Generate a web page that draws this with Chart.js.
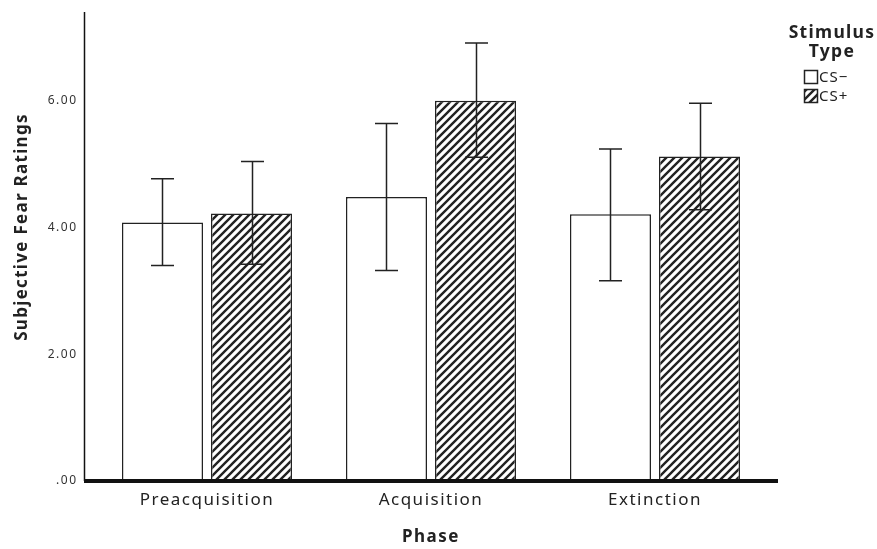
<!DOCTYPE html>
<html>
<head>
<meta charset="utf-8">
<script src="https://cdn.jsdelivr.net/npm/chart.js@4.4.1/dist/chart.umd.min.js"></script>
<style>
    html, body { margin: 0; padding: 0; background: #fff; }
    #wrap { width: 877px; height: 549px; position: relative; }
</style>
</head>
<body>
<div id="wrap"><canvas id="fearChart" width="877" height="549"></canvas></div>
<script>
// Chart data
const phases = ['Preacquisition', 'Acquisition', 'Extinction'];
const seriesNames = ['CS\u2212', 'CS+'];
const csMinus = [4.08, 4.48, 4.21];
const csPlus = [4.22, 6.00, 5.12];
// error bar ends (low / high)
const csMinusLow = [3.40, 3.32, 3.16];
const csMinusHigh = [4.77, 5.64, 5.24];
const csPlusLow = [3.42, 5.11, 4.28];
const csPlusHigh = [5.04, 6.91, 5.96];
const yTicks = [0, 2, 4, 6];
const yMax = 7.4;

const FONT = "'Noto Sans', 'Open Sans', sans-serif";

// Diagonal hatch pattern for CS+
function makeHatch(size, width) {
    const c = document.createElement('canvas');
    c.width = size; c.height = size;
    const g = c.getContext('2d');
    g.fillStyle = '#fff';
    g.fillRect(0, 0, size, size);
    g.strokeStyle = '#222';
    g.lineWidth = width;
    g.lineCap = 'square';
    g.beginPath();
    g.moveTo(0, size); g.lineTo(size, 0);
    g.moveTo(-1, 1); g.lineTo(1, -1);
    g.moveTo(size - 1, size + 1); g.lineTo(size + 1, size - 1);
    g.stroke();
    return g.createPattern(c, 'repeat');
}

const ctx = document.getElementById('fearChart').getContext('2d');
const hatch = makeHatch(8, 2.4);

const errorBars = [
    { low: csMinusLow, high: csMinusHigh },
    { low: csPlusLow, high: csPlusHigh }
];

// SPSS-style tracking on all text
const spacingPlugin = {
    id: 'spacing',
    beforeDraw(chart) {
        chart.ctx.letterSpacing = '1.5px';
    }
};

// Error bars, axis lines, y title and legend
const extrasPlugin = {
    id: 'extras',
    afterDatasetsDraw(chart) {
        const c = chart.ctx;
        const y = chart.scales.y;
        c.save();
        c.strokeStyle = '#222';
        c.lineWidth = 1.5;
        errorBars.forEach((eb, di) => {
            const meta = chart.getDatasetMeta(di);
            meta.data.forEach((bar, i) => {
                const x = Math.round(bar.x) + 0.5;
                const yl = y.getPixelForValue(eb.low[i]);
                const yh = y.getPixelForValue(eb.high[i]);
                c.beginPath();
                c.moveTo(x, yl); c.lineTo(x, yh);
                c.moveTo(x - 11.5, yl); c.lineTo(x + 11.5, yl);
                c.moveTo(x - 11.5, yh); c.lineTo(x + 11.5, yh);
                c.stroke();
            });
        });

        // axis lines (extend slightly past the plot area like SPSS)
        const area = chart.chartArea;
        const left = area.left - 11;
        c.strokeStyle = '#111';
        c.lineWidth = 1.5;
        c.beginPath();
        c.moveTo(left + 0.5, area.top);
        c.lineTo(left + 0.5, area.bottom);
        c.stroke();
        c.lineWidth = 4;
        c.beginPath();
        c.moveTo(left, area.bottom);
        c.lineTo(area.right + 11, area.bottom);
        c.stroke();

        // y axis title
        c.fillStyle = '#222';
        c.letterSpacing = '1.3px';
        c.font = `bold 17px ${FONT}`;
        c.textAlign = 'center';
        c.textBaseline = 'middle';
        c.save();
        c.translate(22, 227);
        c.rotate(-Math.PI / 2);
        c.fillText('Subjective Fear Ratings', 0, 0);
        c.restore();

        // legend
        c.font = `bold 17.5px ${FONT}`;
        c.fillText('Stimulus', 832, 33);
        c.fillText('Type', 832, 52);
        c.letterSpacing = '1px';
        c.font = `15px ${FONT}`;
        c.textAlign = 'left';
        const fills = ['#fff', hatch];
        seriesNames.forEach((name, i) => {
            const top = 70 + i * 19;
            c.fillStyle = fills[i];
            c.fillRect(804, top, 14, 14);
            c.lineWidth = 1.5;
            c.strokeStyle = '#222';
            c.strokeRect(804.5, top + 0.5, 13, 13);
            c.fillStyle = '#222';
            c.fillText(name, 819, top + 7.5);
        });
        c.restore();
    }
};

new Chart(ctx, {
    type: 'bar',
    data: {
        labels: phases,
        datasets: [
            {
                label: seriesNames[0],
                data: csMinus,
                backgroundColor: '#fff',
                borderColor: '#222',
                borderWidth: 1.5,
                borderSkipped: false
            },
            {
                label: seriesNames[1],
                data: csPlus,
                backgroundColor: hatch,
                borderColor: '#222',
                borderWidth: 1.5,
                borderSkipped: false
            }
        ]
    },
    options: {
        responsive: false,
        animation: false,
        devicePixelRatio: 1,
        categoryPercentage: 0.795,
        barPercentage: 0.91,
        layout: { padding: { top: 12, right: 110, left: 0, bottom: 0 } },
        plugins: {
            legend: { display: false },
            tooltip: { enabled: false }
        },
        scales: {
            x: {
                grid: { display: false, drawTicks: false },
                border: { display: false },
                ticks: {
                    color: '#222',
                    padding: 9,
                    font: { family: FONT, size: 17 }
                },
                title: {
                    display: true,
                    text: 'Phase',
                    color: '#222',
                    font: { family: FONT, size: 17, weight: 'bold' },
                    padding: { top: 0, bottom: 2 }
                },
                afterFit(scale) {
                    scale.height = 68;
                    scale.paddingLeft = 0;
                    scale.paddingRight = 0;
                }
            },
            y: {
                min: 0,
                max: yMax,
                grid: { display: false, drawTicks: false },
                border: { display: false },
                afterBuildTicks(scale) {
                    scale.ticks = yTicks.map(v => ({ value: v }));
                },
                ticks: {
                    color: '#333',
                    padding: 17.5,
                    font: { family: FONT, size: 12 },
                    callback: v => v === 0 ? '.00' : v.toFixed(2)
                },
                afterFit(scale) {
                    scale.width = 95;
                    scale.paddingTop = 0;
                    scale.paddingBottom = 0;
                }
            }
        }
    },
    plugins: [spacingPlugin, extrasPlugin]
});
</script>
</body>
</html>
